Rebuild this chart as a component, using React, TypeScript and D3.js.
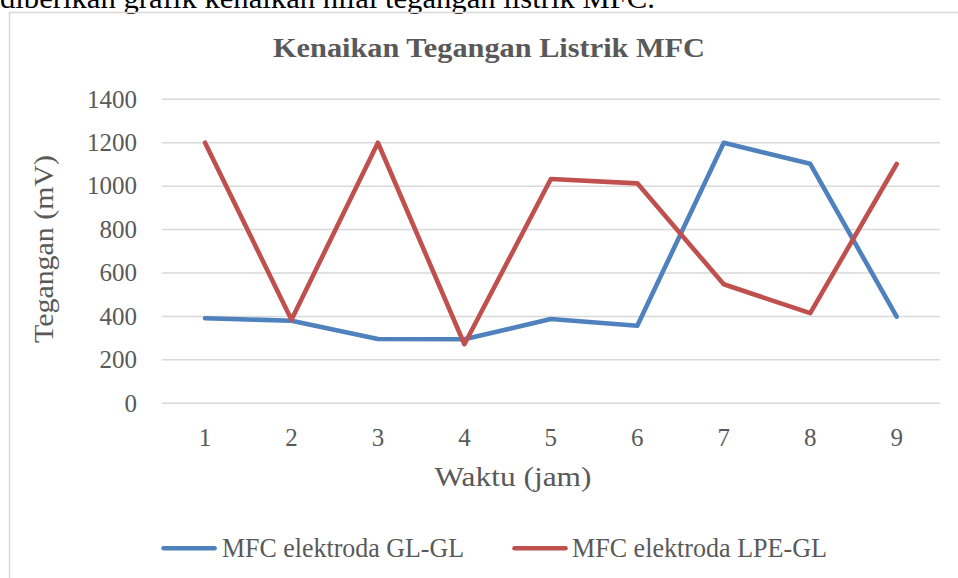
import React from "react";
import * as d3 from "d3";

const categories = ["1", "2", "3", "4", "5", "6", "7", "8", "9"];
const seriesGL = [392, 380, 296, 295, 388, 357, 1200, 1103, 399];
const seriesLPE = [1200, 385, 1200, 272, 1033, 1013, 548, 415, 1102];
const yTicks = [0, 200, 400, 600, 800, 1000, 1200, 1400];
const seriesNames = ["MFC elektroda GL-GL", "MFC elektroda LPE-GL"];
const seriesColors = ["#4F81BD", "#C0504D"];

const W = 958;
const H = 578;
const plotLeft = 161.8;
const plotRight = 939.9;
const plotTop = 99.3;
const plotBottom = 403.3;
const FONT = "'Liberation Serif', 'Times New Roman', serif";
const GRAY = "#595959";

export default function App() {
  const x = d3.scaleBand<string>().domain(categories).range([plotLeft, plotRight]).padding(0);
  const y = d3.scaleLinear().domain([0, 1400]).range([plotBottom, plotTop]);
  const cx = (c: string) => (x(c) ?? 0) + x.bandwidth() / 2;

  const line = d3
    .line<number>()
    .x((_, i) => cx(categories[i]))
    .y((d) => y(d));

  const series = [seriesGL, seriesLPE];

  return (
    <svg
      width={W}
      height={H}
      style={{ position: "absolute", left: 0, top: 0, background: "#fff" }}
      fontFamily={FONT}
    >
      <rect x={0} y={0} width={W} height={H} fill="#fff" />
      {/* cut-off text from surrounding document */}
      <text x={0} y={8} fontSize={30} fill="#000" textLength={655} lengthAdjust="spacingAndGlyphs">
        diberikan grafik kenaikan nilai tegangan listrik MFC.
      </text>
      {/* chart border */}
      <path d={`M9.5,${H + 5} V12.5 H${W + 5}`} fill="none" stroke="#d9d9d9" strokeWidth={1.5} />

      {/* title */}
      <text
        x={489}
        y={57}
        textAnchor="middle"
        fontSize={26.5}
        fontWeight="bold"
        fill={GRAY}
        textLength={432}
        lengthAdjust="spacingAndGlyphs"
      >
        Kenaikan Tegangan Listrik MFC
      </text>

      {/* gridlines */}
      {yTicks.map((t) => (
        <line key={t} x1={plotLeft} x2={plotRight} y1={y(t)} y2={y(t)} stroke="#d9d9d9" strokeWidth={1.5} />
      ))}

      {/* y tick labels */}
      {yTicks.map((t) => (
        <text key={"yl" + t} x={137} y={y(t) + 8.3} textAnchor="end" fontSize={25} fill={GRAY}>
          {t}
        </text>
      ))}

      {/* x tick labels */}
      {categories.map((c) => (
        <text key={"xl" + c} x={cx(c)} y={445.5} textAnchor="middle" fontSize={25} fill={GRAY}>
          {c}
        </text>
      ))}

      {/* axis titles */}
      <text x={513} y={486} textAnchor="middle" fontSize={28} fill={GRAY} textLength={157} lengthAdjust="spacingAndGlyphs">
        Waktu (jam)
      </text>
      <text
        transform={`translate(53.3,249) rotate(-90)`}
        textAnchor="middle"
        fontSize={28}
        fill={GRAY}
        textLength={188}
        lengthAdjust="spacingAndGlyphs"
      >
        Tegangan (mV)
      </text>

      {/* lines */}
      {series.map((s, i) => (
        <path
          key={"s" + i}
          d={line(s) ?? ""}
          fill="none"
          stroke={seriesColors[i]}
          strokeWidth={4.6}
          strokeLinejoin="round"
          strokeLinecap="round"
        />
      ))}

      {/* legend */}
      {[
        { lx: 161.6, tx: 222, tl: 242 },
        { lx: 512.5, tx: 572, tl: 255 },
      ].map((p, i) => (
        <g key={"lg" + i}>
          <line
            x1={p.lx + 2}
            x2={p.lx + 53}
            y1={548.3}
            y2={548.3}
            stroke={seriesColors[i]}
            strokeWidth={4.6}
            strokeLinecap="round"
          />
          <text x={p.tx} y={556.7} fontSize={26.5} fill={GRAY} textLength={p.tl} lengthAdjust="spacingAndGlyphs">
            {seriesNames[i]}
          </text>
        </g>
      ))}
    </svg>
  );
}
